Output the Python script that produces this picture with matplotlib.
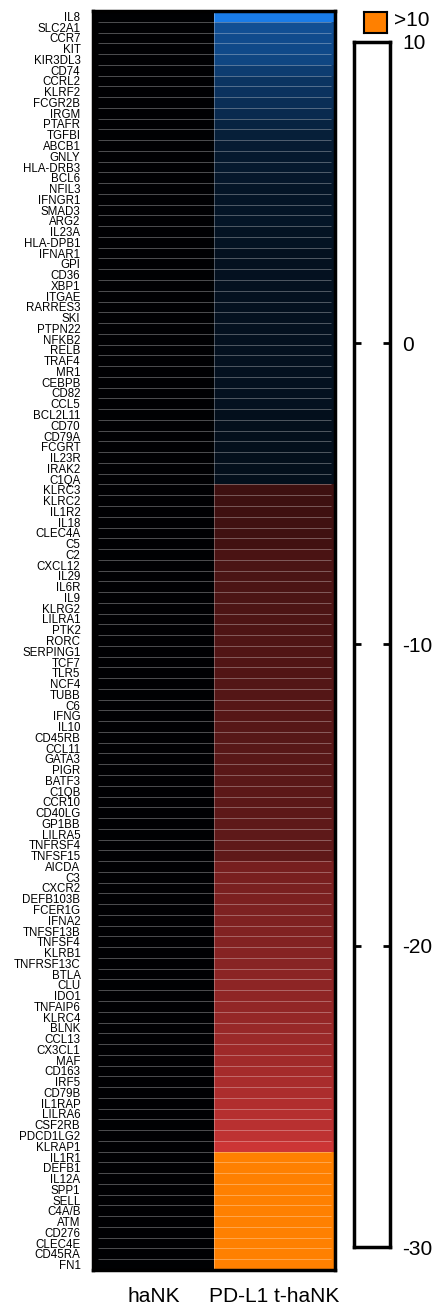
import numpy as np
import matplotlib
matplotlib.use("Agg")
import matplotlib.pyplot as plt
from matplotlib.colors import LinearSegmentedColormap, Normalize

plt.rcParams['font.family'] = ['Liberation Sans', 'DejaVu Sans']

# genes, top to bottom
genes = [
    "IL8", "SLC2A1", "CCR7", "KIT", "KIR3DL3", "CD74", "CCRL2", "KLRF2", "FCGR2B", "IRGM",
    "PTAFR", "TGFBI", "ABCB1", "GNLY", "HLA-DRB3", "BCL6", "NFIL3", "IFNGR1", "SMAD3", "ARG2",
    "IL23A", "HLA-DPB1", "IFNAR1", "GPI", "CD36", "XBP1", "ITGAE", "RARRES3", "SKI", "PTPN22",
    "NFKB2", "RELB", "TRAF4", "MR1", "CEBPB", "CD82", "CCL5", "BCL2L11", "CD70", "CD79A",
    "FCGRT", "IL23R", "IRAK2", "C1QA", "KLRC3", "KLRC2", "IL1R2", "IL18", "CLEC4A", "C5",
    "C2", "CXCL12", "IL29", "IL6R", "IL9", "KLRG2", "LILRA1", "PTK2", "RORC", "SERPING1",
    "TCF7", "TLR5", "NCF4", "TUBB", "C6", "IFNG", "IL10", "CD45RB", "CCL11", "GATA3",
    "PIGR", "BATF3", "C1QB", "CCR10", "CD40LG", "GP1BB", "LILRA5", "TNFRSF4", "TNFSF15", "AICDA",
    "C3", "CXCR2", "DEFB103B", "FCER1G", "IFNA2", "TNFSF13B", "TNFSF4", "KLRB1", "TNFRSF13C", "BTLA",
    "CLU", "IDO1", "TNFAIP6", "KLRC4", "BLNK", "CCL13", "CX3CL1", "MAF", "CD163", "IRF5",
    "CD79B", "IL1RAP", "LILRA6", "CSF2RB", "PDCD1LG2", "KLRAP1", "IL1R1", "DEFB1", "IL12A", "SPP1",
    "SELL", "C4A/B", "ATM", "CD276", "CLEC4E", "CD45RA", "FN1",
]

samples = ["haNK", "PD-L1 t-haNK"]

# fold change vs haNK (haNK is the reference, so all zero)
hank = [0.0] * len(genes)
pdl1_thank = [
    10.0, 6.4, 6.0, 5.8, 5.5, 4.8, 4.2, 4.0, 3.7, 3.4,
    2.8, 2.4, 2.1, 2.0, 1.9, 1.8, 1.7, 1.7, 1.6, 1.6,
    1.5, 1.5, 1.4, 1.4, 1.4, 1.4, 1.4, 1.4, 1.3, 1.3,
    1.3, 1.3, 1.3, 1.3, 1.3, 1.3, 1.3, 1.2, 1.2, 1.2,
    1.2, 1.2, 1.2, 1.2, -8.0, -8.1, -8.2, -8.3, -8.4, -8.6,
    -9.6, -9.7, -9.8, -9.9, -10.0, -10.1, -10.2, -10.3, -10.4, -10.5,
    -10.6, -10.7, -10.8, -11.0, -11.1, -11.2, -11.3, -11.4, -11.5, -11.6,
    -11.7, -11.8, -11.9, -12.0, -12.1, -12.2, -12.3, -12.4, -12.5, -15.5,
    -15.7, -15.9, -16.1, -16.3, -16.5, -16.8, -17.1, -17.4, -17.7, -18.0,
    -18.3, -18.6, -19.0, -19.4, -19.8, -20.2, -20.6, -21.0, -21.5, -22.0,
    -22.5, -23.0, -23.5, -24.0, -24.8, -26.5, -35.0, -35.0, -35.0, -35.0,
    -35.0, -35.0, -35.0, -35.0, -35.0, -35.0, -35.0,
]

cbar_ticks = [10, 0, -10, -20, -30]
vmin, vmax = -30, 10

cmap = LinearSegmentedColormap.from_list(
    "rb", [(0.0, "#e63c3c"), (0.75, "#000000"), (1.0, "#1a7ce8")])
cmap.set_under("#ff8000")
norm = Normalize(vmin=vmin, vmax=vmax)

fig = plt.figure(figsize=(4.39, 13.07), dpi=100)

# heatmap
ax = fig.add_axes([0.2118, 0.0283, 0.5513, 0.9633])
data = np.column_stack([hank, pdl1_thank])
n = len(genes)
ax.pcolormesh(np.arange(3), np.arange(n + 1), data, cmap=cmap, norm=norm)
ax.set_xlim(0, 2)
ax.set_ylim(n, 0)
ax.hlines(np.arange(1, n), 0.04, 1.97, color="white", alpha=0.3, lw=0.7)
ax.vlines(1, 0, n, color="white", alpha=0.3, lw=0.7)

ax.set_yticks(np.arange(n) + 0.5)
ax.set_yticklabels(genes, fontsize=8.3)
ax.set_xticks([0.5, 1.5])
ax.set_xticklabels(samples, fontsize=15)
ax.tick_params(axis="both", length=0)
ax.tick_params(axis="y", pad=9)
ax.tick_params(axis="x", pad=12)
for s in ax.spines.values():
    s.set_linewidth(2.5)
    s.set_color("black")

# colour scale box
cax = fig.add_axes([0.8064, 0.0459, 0.082, 0.922])
cax.set_facecolor("white")
cax.set_ylim(vmin, vmax)
cax.set_xticks([])
cax.set_yticks(cbar_ticks)
cax.set_yticklabels([str(t) for t in cbar_ticks], fontsize=15)
cax.tick_params(axis="y", direction="in", left=True, right=True,
                labelleft=False, labelright=True, length=5, width=2, pad=9)
for s in cax.spines.values():
    s.set_linewidth(2.5)
    s.set_color("black")

# out-of-range swatch
sax = fig.add_axes([0.829, 0.9748, 0.0524, 0.0161])
sax.set_facecolor("#ff8000")
sax.set_xticks([])
sax.set_yticks([])
for s in sax.spines.values():
    s.set_linewidth(1.5)
fig.text(0.898, 1 - 21 / 1307, ">10", fontsize=15, va="center", ha="left")

fig.savefig("out.png", dpi=100)
